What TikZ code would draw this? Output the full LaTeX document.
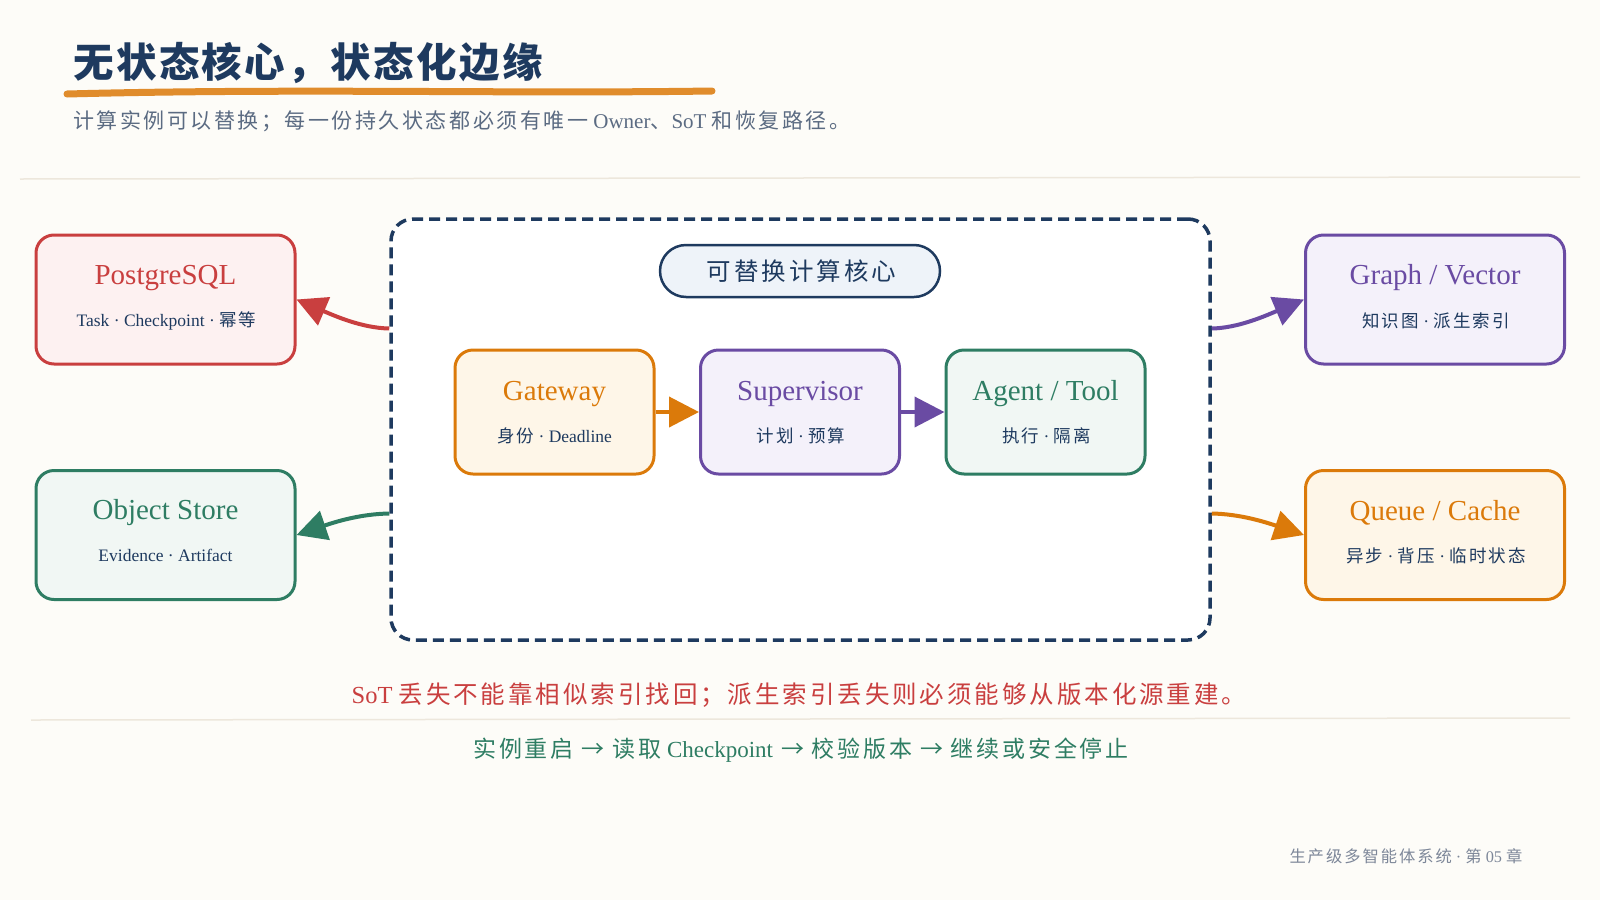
\documentclass[tikz,border=0pt]{standalone}
\usepackage{fontspec}
\usetikzlibrary{arrows.meta,calc}
\setmainfont{Liberation Serif}
\newfontfamily\cjk[LetterSpace=12]{Noto Sans CJK SC}
\newfontfamily\cjkt[LetterSpace=6]{Noto Sans CJK SC}
\newcommand\zh[1]{{\cjk #1}}
\definecolor{bg}{HTML}{FDFCF8}
\definecolor{navy}{HTML}{1E3A5F}
\definecolor{slate}{HTML}{5B6B82}
\definecolor{cred}{HTML}{C93F3F}
\definecolor{credf}{HTML}{FDF1F1}
\definecolor{cgreen}{HTML}{2E7D63}
\definecolor{cgreenf}{HTML}{F1F7F4}
\definecolor{cpurple}{HTML}{6A4BA3}
\definecolor{cpurplef}{HTML}{F4F1FA}
\definecolor{corange}{HTML}{DB7A0A}
\definecolor{corangef}{HTML}{FEF6E8}
\definecolor{sepc}{HTML}{EDE7DC}
\definecolor{uline}{HTML}{E08C2C}
\definecolor{pillf}{HTML}{EEF3F9}
\definecolor{foot}{HTML}{7D8799}
\begin{document}
\begin{tikzpicture}[x=1pt,y=-1pt,
  card/.style={draw=#1, fill=#1f, line width=3pt, rounded corners=18pt},
  sidecard/.style={card=#1, minimum width=259, minimum height=129},
  corecard/.style={card=#1, minimum width=199, minimum height=124},
  ttl/.style={text=#1, font=\fontsize{29}{32}\selectfont},
  subt/.style={text=navy, font=\fontsize{17.5}{20}\selectfont},
  conn/.style={draw=#1, line width=4pt, -{Triangle[length=30pt,width=30pt]}},
  sepline/.style={draw=sepc, line width=1.5pt}
]
\useasboundingbox (0,0) rectangle (1600,900);
\fill[bg] (0,0) rectangle (1600,900);

% header
\node[anchor=west, inner sep=0, text=navy, font=\fontsize{40.5}{44}\cjkt\bfseries] (title) at (73,63) {无状态核心，状态化边缘};
\coordinate (ulA) at (67,94);
\coordinate (ulB) at (712,91);
\draw[uline, line width=7pt, line cap=round] (ulA) .. controls (300,88) and (500,94) .. (ulB);
\node[anchor=west, inner sep=0, text=slate, font=\fontsize{21}{24}\selectfont] (subtitle) at (73,121)
  {\zh{计算实例可以替换；每一份持久状态都必须有唯一} Owner\zh{、}SoT \zh{和恢复路径。}};
\coordinate (s1a) at (20,179);
\coordinate (s1b) at (1580,177);
\draw[sepline] (s1a) -- (s1b);

% core
\node[draw=navy, fill=white, line width=3.5pt, dash pattern=on 11pt off 6pt, rounded corners=22pt,
  minimum width=819, minimum height=421] (core) at (800.5,429.5) {};
\node[draw=navy, fill=pillf, line width=2.5pt, rounded corners=26pt, minimum width=280, minimum height=52,
  text=navy, font=\fontsize{24.5}{28}\cjk] (pill) at (800,271) {\hspace{3pt}可替换计算核心};

\node[corecard=corange] (gw) at (554.5,412) {};
\node[ttl=corange] (gwt) at (554.5,394) {Gateway};
\node[subt] (gws) at (554.5,436) {\zh{身份} · Deadline};

\node[corecard=cpurple] (sup) at (800,412) {};
\node[ttl=cpurple] (supt) at (800,394) {Supervisor};
\node[subt] (sups) at (801,436) {\zh{计划} · \zh{预算}};

\node[corecard=cgreen] (ag) at (1045.5,412) {};
\node[ttl=cgreen] (agt) at (1045.5,394) {Agent / Tool};
\node[subt] (ags) at (1046.5,436) {\zh{执行} · \zh{隔离}};

\draw[conn=corange] (gw.east) -- (sup.west);
\draw[conn=cpurple] (sup.east) -- (ag.west);

% side cards
\node[sidecard=cred] (pg) at (165.5,299.5) {};
\node[ttl=cred] (pgt) at (165.5,278) {PostgreSQL};
\node[subt] (pgs) at (166.5,321) {Task · Checkpoint · \zh{幂等}};

\node[sidecard=cgreen] (os) at (165.5,535) {};
\node[ttl=cgreen] (ost) at (165.5,513) {Object Store};
\node[subt] (oss) at (165.5,555) {Evidence · Artifact};

\node[sidecard=cpurple] (gv) at (1435,299.5) {};
\node[ttl=cpurple] (gvt) at (1435,278) {Graph / Vector};
\node[subt] (gvs) at (1436,321) {\zh{知识图} · \zh{派生索引}};

\node[sidecard=corange] (qc) at (1435,535) {};
\node[ttl=corange] (qct) at (1435,513) {Queue / Cache};
\node[subt] (qcs) at (1436,556) {\zh{异步} · \zh{背压} · \zh{临时状态}};

\coordinate (cL1) at ($(core.west)+(0,-101)$);
\coordinate (cL2) at ($(core.west)+(0,84)$);
\coordinate (cR1) at ($(core.east)+(0,-101)$);
\coordinate (cR2) at ($(core.east)+(0,84)$);
\draw[conn=cred] (cL1) .. controls (362,328) and (335,316) .. (pg.east);
\draw[conn=cgreen] (cL2) .. controls (360,514) and (335,522) .. (os.east);
\draw[conn=cpurple] (cR1) .. controls (1238,328) and (1265,316) .. (gv.west);
\draw[conn=corange] (cR2) .. controls (1240,514) and (1265,522) .. (qc.west);

% footer texts
\node[text=cred, font=\fontsize{24.5}{28}\selectfont] (warn) at (799,695)
  {SoT \zh{丢失不能靠相似索引找回；派生索引丢失则必须能够从版本化源重建。}};
\coordinate (s2a) at (31,720);
\coordinate (s2b) at (1570,718);
\draw[sepline] (s2a) -- (s2b);
\node[text=cgreen, font=\fontsize{23}{26}\selectfont] (flow) at (801,750)
  {\zh{实例重启 → 读取} Checkpoint\zh{ → 校验版本 → 继续或安全停止}};
\node[anchor=east, text=foot, font=\fontsize{16.3}{19}\selectfont] (pagefoot) at (1526,856)
  {\zh{生产级多智能体系统} · \zh{第} 05 \zh{章}};
\end{tikzpicture}
\end{document}
